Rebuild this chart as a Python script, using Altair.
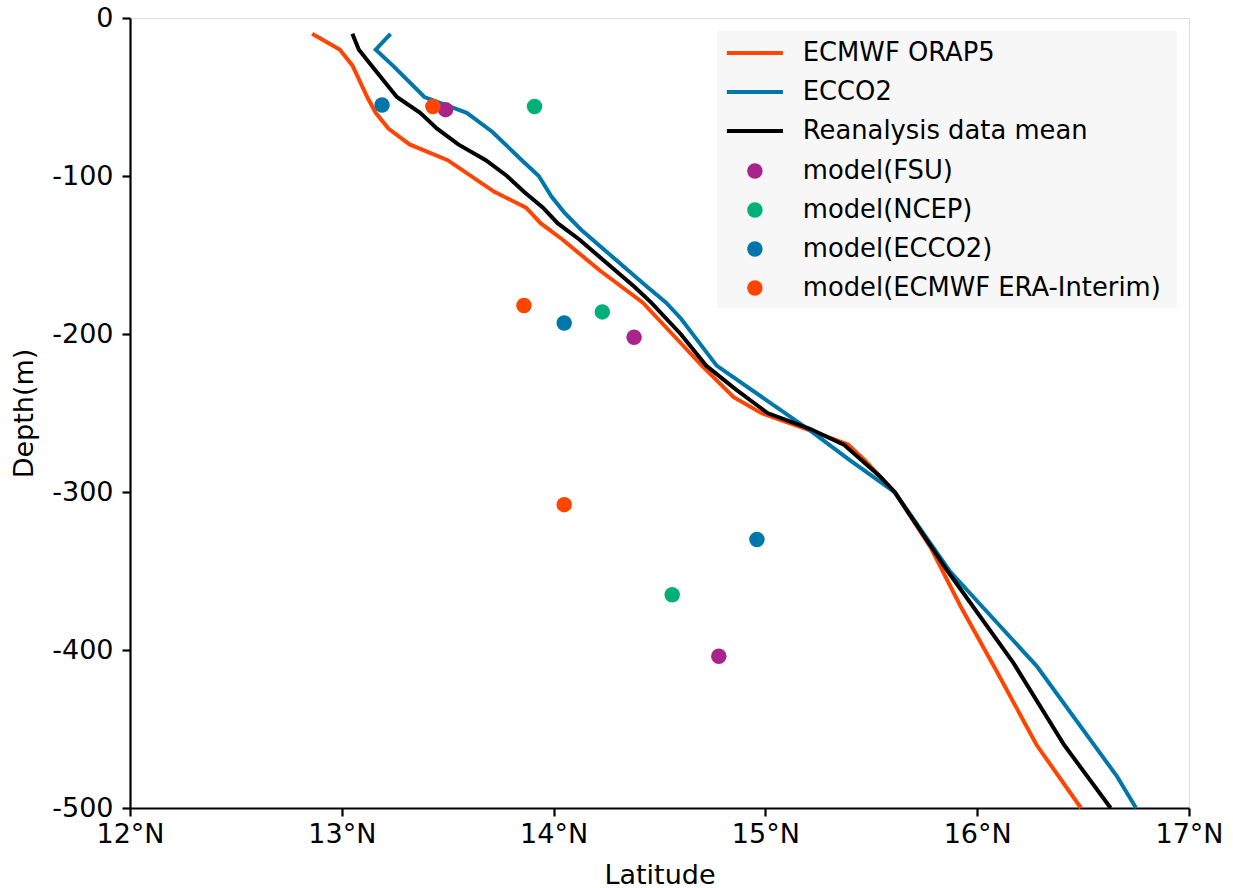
import altair as alt
import pandas as pd

# ---- line series (latitude in deg N, depth in m) ----
orap5_lat = [12.86, 12.99, 13.05, 13.12, 13.16, 13.22, 13.32, 13.50, 13.72, 13.87, 13.94,
             14.04, 14.22, 14.42, 14.56, 14.70, 14.85, 14.98, 15.19, 15.39, 15.47, 15.61,
             15.78, 15.92, 16.09, 16.28, 16.49]
orap5_depth = [-10, -20, -30, -50, -60, -70, -80, -90, -110, -120, -130,
               -140, -160, -180, -200, -220, -240, -250, -260, -270, -280, -300,
               -335, -372, -413, -460, -500]

ecco2_lat = [13.23, 13.16, 13.24, 13.39, 13.59, 13.71, 13.85, 13.93, 13.99, 14.05, 14.13,
             14.44, 14.53, 14.60, 14.77, 15.21, 15.40, 15.61, 15.87, 16.28, 16.66, 16.75]
ecco2_depth = [-10, -20, -30, -50, -60, -72, -90, -100, -113, -123, -134,
               -170, -180, -190, -220, -261, -280, -300, -350, -410, -480, -500]

mean_lat = [13.05, 13.08, 13.14, 13.26, 13.37, 13.45, 13.55, 13.68, 13.78, 13.86, 13.95,
            14.02, 14.12, 14.38, 14.46, 14.60, 14.72, 14.86, 15.01, 15.21, 15.37, 15.54,
            15.61, 15.86, 16.17, 16.41, 16.63]
mean_depth = [-10, -20, -30, -50, -60, -70, -80, -90, -100, -110, -120,
              -130, -140, -170, -180, -200, -220, -235, -250, -260, -270, -290,
              -300, -350, -408, -460, -500]

line_names = ["ECMWF ORAP5", "ECCO2", "Reanalysis data mean"]
line_colors = ["#FF4500", "#0077AA", "#000000"]

# ---- model points ----
model_names = ["model(FSU)", "model(NCEP)", "model(ECCO2)", "model(ECMWF ERA-Interim)"]
model_colors = ["#A8238A", "#00B077", "#0077AA", "#FF4500"]
fsu_lat = [13.49, 14.38, 14.78]
fsu_depth = [-58, -202, -404]
ncep_lat = [13.91, 14.23, 14.56]
ncep_depth = [-56, -186, -365]
eccomod_lat = [13.19, 14.05, 14.96]
eccomod_depth = [-55, -193, -330]
era_lat = [13.43, 13.86, 14.05]
era_depth = [-56, -182, -308]

x_ticks = [12, 13, 14, 15, 16, 17]
y_ticks = [-500, -400, -300, -200, -100, 0]

rows = []
for name, lats, deps in zip(line_names, [orap5_lat, ecco2_lat, mean_lat],
                            [orap5_depth, ecco2_depth, mean_depth]):
    for i, (la, d) in enumerate(zip(lats, deps)):
        rows.append({"series": name, "lat": la, "depth": d, "ord": i})
lines_df = pd.DataFrame(rows)

prow = []
for name, lats, deps in zip(model_names, [fsu_lat, ncep_lat, eccomod_lat, era_lat],
                            [fsu_depth, ncep_depth, eccomod_depth, era_depth]):
    for la, d in zip(lats, deps):
        prow.append({"model": name, "lat": la, "depth": d})
pts_df = pd.DataFrame(prow)

FONT = "DejaVu Sans"
PT_SIZE = 240
LINE_PATH = "M-3.62,0L3.62,0"

xscale = alt.Scale(domain=[12, 17], nice=False, zero=False)
yscale = alt.Scale(domain=[-500, 0], nice=False, zero=False)

xaxis = alt.Axis(values=x_ticks, labelExpr="datum.value + '°N'", title="Latitude",
                 grid=False, labelFontSize=27, titleFontSize=27, labelFont=FONT, titleFont=FONT,
                 labelColor="black", titleColor="black", titleFontWeight="normal",
                 tickSize=8, tickWidth=2.2, tickColor="black", domainColor="black",
                 domainWidth=2.2, labelPadding=5, titlePadding=15, labelFlush=False)
yaxis = alt.Axis(values=y_ticks, labelExpr="'' + datum.value", title="Depth(m)",
                 grid=False, labelFontSize=27, titleFontSize=27, labelFont=FONT, titleFont=FONT,
                 labelColor="black", titleColor="black", titleFontWeight="normal",
                 tickSize=8, tickWidth=2.2, tickColor="black", domainColor="black",
                 domainWidth=2.2, labelPadding=9, titlePadding=13, labelFlush=False)

bg = alt.Chart(pd.DataFrame({"a": [0]})).mark_rect(color="#F7F7F7").encode(
    x=alt.value(587), x2=alt.value(1047), y=alt.value(12.5), y2=alt.value(290)
)

lines = alt.Chart(lines_df).mark_line(strokeWidth=4).encode(
    x=alt.X("lat:Q", scale=xscale, axis=xaxis),
    y=alt.Y("depth:Q", scale=yscale, axis=yaxis),
    stroke=alt.Stroke("series:N",
                      scale=alt.Scale(domain=line_names, range=line_colors),
                      legend=alt.Legend(title=None, orient="none", legendX=612, legendY=22,
                                        symbolType=LINE_PATH, symbolSize=PT_SIZE,
                                        symbolStrokeWidth=4, labelFontSize=25.8,
                                        labelFont=FONT, labelColor="black",
                                        labelOffset=35, rowPadding=12, padding=0,
                                        labelLimit=600)),
    order="ord:Q",
)

points = alt.Chart(pts_df).mark_circle(size=PT_SIZE, opacity=1).encode(
    x=alt.X("lat:Q", scale=xscale),
    y=alt.Y("depth:Q", scale=yscale),
    color=alt.Color("model:N",
                    scale=alt.Scale(domain=model_names, range=model_colors),
                    legend=alt.Legend(title=None, orient="none", legendX=612, legendY=140,
                                      symbolType="circle", symbolSize=PT_SIZE,
                                      symbolStrokeWidth=0, symbolOpacity=1,
                                      labelFontSize=25.8, labelFont=FONT,
                                      labelColor="black", labelOffset=35,
                                      rowPadding=12, padding=0, labelLimit=600)),
)

chart = alt.layer(bg, lines, points).properties(
    width=1059, height=790,
    autosize=alt.AutoSizeParams(type="none"),
    padding={"left": 130, "top": 18, "right": 44, "bottom": 80},
).resolve_scale(color="independent").configure_view(
    stroke="black", strokeWidth=2.2
).configure(background="white")

chart.save("out.html", embed_options={"renderer": "svg", "actions": False})
